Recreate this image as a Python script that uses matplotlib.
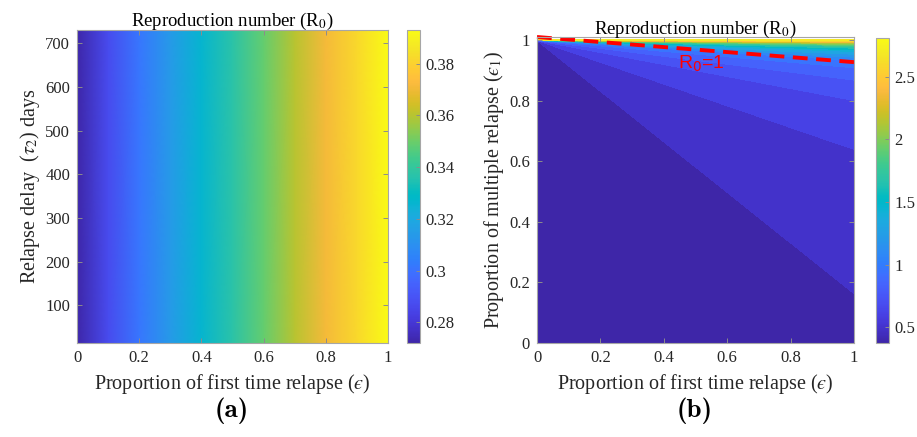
import numpy as np
import matplotlib
matplotlib.use("Agg")
import matplotlib.pyplot as plt
from matplotlib.colors import LinearSegmentedColormap, Normalize
from matplotlib.cm import ScalarMappable
from matplotlib.ticker import FuncFormatter

# MATLAB parula (64 entries)
PARULA = [
    (0.2422, 0.1504, 0.6603), (0.2504, 0.1650, 0.7076), (0.2578, 0.1818, 0.7511),
    (0.2647, 0.1978, 0.7952), (0.2706, 0.2147, 0.8364), (0.2751, 0.2342, 0.8710),
    (0.2783, 0.2559, 0.8991), (0.2803, 0.2782, 0.9221), (0.2813, 0.3006, 0.9414),
    (0.2810, 0.3228, 0.9579), (0.2795, 0.3447, 0.9717), (0.2760, 0.3667, 0.9829),
    (0.2699, 0.3892, 0.9906), (0.2602, 0.4123, 0.9952), (0.2440, 0.4358, 0.9988),
    (0.2206, 0.4603, 0.9973), (0.1963, 0.4847, 0.9892), (0.1834, 0.5074, 0.9798),
    (0.1786, 0.5289, 0.9682), (0.1764, 0.5499, 0.9520), (0.1687, 0.5703, 0.9359),
    (0.1540, 0.5902, 0.9218), (0.1460, 0.6091, 0.9079), (0.1380, 0.6276, 0.8973),
    (0.1248, 0.6459, 0.8883), (0.1113, 0.6635, 0.8763), (0.0952, 0.6798, 0.8598),
    (0.0689, 0.6948, 0.8394), (0.0297, 0.7082, 0.8163), (0.0036, 0.7203, 0.7917),
    (0.0067, 0.7312, 0.7660), (0.0433, 0.7411, 0.7394), (0.0964, 0.7500, 0.7120),
    (0.1408, 0.7584, 0.6842), (0.1717, 0.7670, 0.6554), (0.1938, 0.7758, 0.6251),
    (0.2161, 0.7843, 0.5923), (0.2470, 0.7918, 0.5567), (0.2906, 0.7973, 0.5188),
    (0.3406, 0.8008, 0.4789), (0.3909, 0.8029, 0.4354), (0.4456, 0.8024, 0.3909),
    (0.5044, 0.7993, 0.3480), (0.5616, 0.7942, 0.3045), (0.6174, 0.7876, 0.2612),
    (0.6720, 0.7793, 0.2227), (0.7242, 0.7698, 0.1910), (0.7738, 0.7598, 0.1646),
    (0.8203, 0.7498, 0.1535), (0.8634, 0.7406, 0.1596), (0.9035, 0.7330, 0.1774),
    (0.9393, 0.7288, 0.2100), (0.9728, 0.7298, 0.2394), (0.9956, 0.7434, 0.2371),
    (0.9970, 0.7659, 0.2199), (0.9952, 0.7893, 0.2028), (0.9892, 0.8136, 0.1885),
    (0.9786, 0.8386, 0.1766), (0.9676, 0.8639, 0.1643), (0.9610, 0.8890, 0.1537),
    (0.9597, 0.9135, 0.1423), (0.9628, 0.9373, 0.1265), (0.9691, 0.9606, 0.1064),
    (0.9769, 0.9839, 0.0805),
]
parula = LinearSegmentedColormap.from_list("parula", PARULA, N=256)

# ---- panel (a): R0 vs first-time relapse proportion (flat in tau2)
eps_a = [0.0, 0.1, 0.2, 0.3, 0.4, 0.5, 0.6, 0.7, 0.8, 0.9, 1.0]
r0_a = [0.272, 0.287, 0.301, 0.314, 0.326, 0.337, 0.349, 0.360, 0.371, 0.382, 0.393]
tau2_days = [14, 730]

# ---- panel (b): R0 over (eps, eps1); contour lines fan out of (0, 1)
r0_b_min = 0.375          # value along eps = 0
r0_b_max = 2.81
edge_eps1 = [0.0, 0.16, 0.65, 0.80, 0.87, 0.91, 0.927, 0.945, 0.964, 0.98, 0.99, 0.996, 1.0]
edge_r0 = [0.46, 0.49, 0.61, 0.72, 0.84, 0.955, 1.0, 1.19, 1.42, 1.77, 2.11, 2.46, 2.81]
n_levels = 20
r0_line_eps = [0.0, 1.0]
r0_line_eps1 = [1.01, 0.927]

plt.rcParams["font.family"] = ["Liberation Serif", "DejaVu Serif"]
plt.rcParams["mathtext.fontset"] = "stix"

W, H = 917, 437
fig = plt.figure(figsize=(W / 100, H / 100), dpi=100)


def box(x0, y0, x1, y1):
    return [x0 / W, 1 - y1 / H, (x1 - x0) / W, (y1 - y0) / H]


ax1 = fig.add_axes(box(77, 30, 388, 343))
cax1 = fig.add_axes(box(407, 30, 420, 343))
ax2 = fig.add_axes(box(537, 37, 854, 343))
cax2 = fig.add_axes(box(876, 38, 889, 343))

fmt = FuncFormatter(lambda v, p: f"{v:g}")
SPINE = "#a6a6a6"
TXT = "#262626"
LAB = 14.5
EPS = "\u03f5"


def style(ax, both=True):
    for sp in ax.spines.values():
        sp.set_color(SPINE)
        sp.set_linewidth(0.8)
    ax.tick_params(direction="in", length=3.5, width=0.7, color="#8c8c8c",
                   labelsize=12, labelcolor=TXT, top=both, right=both, pad=5)


# panel (a)
X = np.tile(np.array(eps_a), (2, 1))
Y = np.tile(np.array(tau2_days, dtype=float)[:, None], (1, len(eps_a)))
C = np.tile(np.array(r0_a), (2, 1))
mesh = ax1.pcolormesh(X, Y, C, shading="gouraud", cmap=parula,
                      vmin=min(r0_a), vmax=max(r0_a))
ax1.set_xlim(0, 1)
ax1.set_ylim(tau2_days)
ax1.set_xticks([0, 0.2, 0.4, 0.6, 0.8, 1])
ax1.set_yticks([100, 200, 300, 400, 500, 600, 700])
ax1.xaxis.set_major_formatter(fmt)
style(ax1)
ax1.set_xlabel(f"Proportion of first time relapse (${EPS}$)", fontsize=LAB, color=TXT)
ax1.set_ylabel(r"Relapse delay  ($\tau_2$) days", fontsize=LAB, color=TXT, labelpad=2)
ax1.set_title(r"Reproduction number (R$_0$)", fontsize=13.5, color="black", pad=3)

cb1 = fig.colorbar(mesh, cax=cax1)
cb1.set_ticks([0.28, 0.30, 0.32, 0.34, 0.36, 0.38])
cb1.ax.yaxis.set_major_formatter(fmt)
cb1.outline.set_edgecolor(SPINE)
cb1.outline.set_linewidth(0.8)
cax1.tick_params(direction="in", length=3, width=0.7, color="#8c8c8c",
                 labelsize=12, labelcolor=TXT, pad=4)

# panel (b)
eg = np.linspace(0, 1, 501)
e1g = np.linspace(0, 1, 501)
E, E1 = np.meshgrid(eg, e1g)
den = E + (1 - E1)
u = np.divide(E, den, out=np.ones_like(E), where=den > 0)
u_edge = 1.0 / (2.0 - np.array(edge_eps1))
Z = np.interp(u, np.r_[0.0, u_edge], np.r_[r0_b_min, edge_r0])

norm_b = Normalize(vmin=r0_b_min, vmax=r0_b_max)
levels = np.linspace(r0_b_min, r0_b_max, n_levels + 2)
fill_cols = [parula(norm_b(lv)) for lv in levels[:-1]]
levels[-1] += 1e-6
cs = ax2.contourf(E, E1, Z, levels=levels, colors=fill_cols)
cs.set_edgecolor("face")
cs.set_linewidth(0.6)
ax2.plot(r0_line_eps, r0_line_eps1, color="red", lw=2.8,
         linestyle=(0, (3.8, 2.2)), solid_capstyle="butt", clip_on=False)
ax2.text(0.445, 0.905, "R$_0$=1", color="red", fontsize=14,
         family="Liberation Sans", math_fontfamily="dejavusans",
         ha="left", va="baseline")
ax2.set_xlim(0, 1)
ax2.set_ylim(0, 1.01)
ax2.set_xticks([0, 0.2, 0.4, 0.6, 0.8, 1])
ax2.set_yticks([0, 0.2, 0.4, 0.6, 0.8, 1])
ax2.xaxis.set_major_formatter(fmt)
ax2.yaxis.set_major_formatter(fmt)
style(ax2)
ax2.set_xlabel(f"Proportion of first time relapse (${EPS}$)", fontsize=LAB, color=TXT)
ax2.set_ylabel(f"Proportion of multiple relapse (${EPS}_1$)", fontsize=LAB, color=TXT,
               labelpad=2)
ax2.set_title(r"Reproduction number (R$_0$)", fontsize=13.5, color="black", pad=2)

cb2 = fig.colorbar(ScalarMappable(norm=norm_b, cmap=parula), cax=cax2)
cb2.set_ticks([0.5, 1, 1.5, 2, 2.5])
cb2.ax.yaxis.set_major_formatter(fmt)
cb2.outline.set_edgecolor(SPINE)
cb2.outline.set_linewidth(0.8)
cax2.tick_params(direction="in", length=3, width=0.7, color="#8c8c8c",
                 labelsize=12, labelcolor=TXT, pad=4)

fig.text(232 / W, 1 - 411 / H, "(a)", family=["cmb10", "DejaVu Serif"],
         fontsize=19.5, ha="center", va="center")
fig.text(695 / W, 1 - 411 / H, "(b)", family=["cmb10", "DejaVu Serif"],
         fontsize=19.5, ha="center", va="center")

fig.savefig("out.png", dpi=100)
